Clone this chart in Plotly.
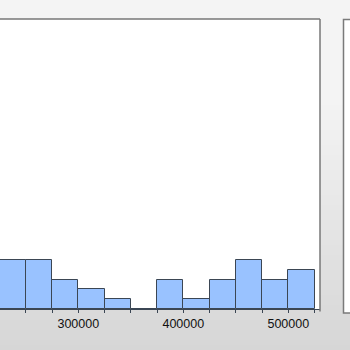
import plotly.graph_objects as go

# Data: histogram bins (start values, width 25000) and counts
bin_starts = [225000, 250000, 275000, 300000, 325000, 350000, 375000,
              400000, 425000, 450000, 475000, 500000]
counts = [5, 5, 3, 2, 1, 0, 3, 1, 3, 5, 3, 4]
bin_width = 25000
tick_values = list(range(225000, 550001, 25000))
tick_labels = [str(v) if v % 100000 == 0 else "" for v in tick_values]

W, H = 350, 350
ML, MR, MT, MB = 0, 30, 19, 41
PW, PH = W - ML - MR, H - MT - MB


def px(xp):
    return (xp - ML) / PW


def py(yp):
    return (H - MB - yp) / PH


fig = go.Figure()
fig.add_trace(go.Bar(
    x=bin_starts, y=counts, width=[bin_width] * len(bin_starts), offset=0,
    marker=dict(color="#99c2ff", line=dict(color="#3b4654", width=1)),
    showlegend=False, hoverinfo="skip",
))

shapes = []
# gray gradient background bands
n = 70
for i in range(n):
    y0 = i * H / n
    yc = y0 + H / n / 2
    if yc < 100:
        g = 244
    else:
        g = 244 - 30 * (yc - 100) / 250
    g = int(round(g))
    shapes.append(dict(type="rect", xref="paper", yref="paper",
                       x0=px(-5), x1=px(W + 5), y0=py(y0 + H / n + 0.6), y1=py(y0),
                       fillcolor=f"rgb({g},{g},{g})", line=dict(width=0), layer="below"))
# white plot area
shapes.append(dict(type="rect", xref="x domain", yref="y domain", x0=0, x1=1, y0=0, y1=1,
                   fillcolor="white", line=dict(width=0), layer="below"))
# right panel (partially visible)
shapes.append(dict(type="rect", xref="paper", yref="paper",
                   x0=px(343.5), x1=px(W + 20), y0=py(313), y1=py(19.5),
                   fillcolor="white", line=dict(color="#7a7a7a", width=1.5), layer="below"))
# top and right borders of plot
shapes.append(dict(type="line", xref="x domain", yref="y domain", x0=0, x1=1, y0=1, y1=1,
                   line=dict(color="#777777", width=1.5)))
shapes.append(dict(type="line", xref="x domain", yref="y domain", x0=1, x1=1, y0=py(311.5), y1=1,
                   line=dict(color="#777777", width=1.5)))

fig.update_layout(
    width=W, height=H,
    margin=dict(l=ML, r=MR, t=MT, b=MB),
    paper_bgcolor="#f4f4f4", plot_bgcolor="rgba(0,0,0,0)",
    bargap=0,
    shapes=shapes,
    font=dict(family="Liberation Sans, Arial, sans-serif", size=12, color="#111111"),
    xaxis=dict(range=[225430, 530190], tickmode="array", tickvals=tick_values,
               ticktext=tick_labels, ticks="outside", ticklen=3, tickcolor="#3b4654",
               tickwidth=1, showgrid=False, zeroline=False, showline=True,
               linecolor="#3b4654", linewidth=1, tickfont=dict(size=12.5, color="#111111")),
    yaxis=dict(range=[0, 29.5], showticklabels=False, showgrid=False, zeroline=False,
               showline=False, ticks=""),
)

fig.write_html("out.html")
